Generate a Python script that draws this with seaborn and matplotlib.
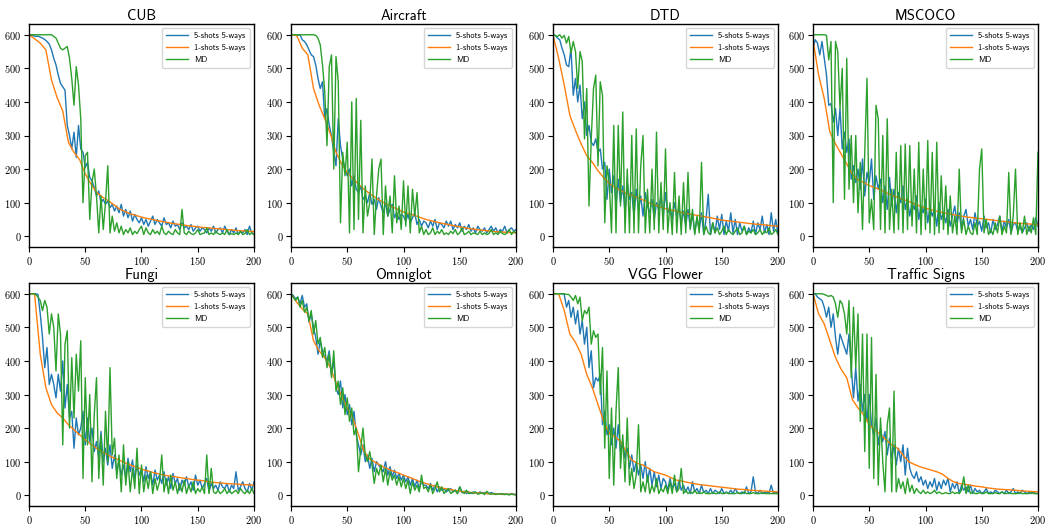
import numpy as np
import pandas as pd
import matplotlib
matplotlib.use("Agg")
import matplotlib.pyplot as plt
import seaborn as sns

# ---------------- data ----------------
x_noisy = list(range(0, 201, 2))   # grid for the noisy series
x_smooth = list(range(0, 201, 5))  # grid for the smooth 1-shot series

titles = ["CUB", "Aircraft", "DTD", "MSCOCO", "Fungi", "Omniglot", "VGG Flower", "Traffic Signs"]
series_names = ["5-shots 5-ways", "1-shots 5-ways", "MD"]

cub_5shot = [600,598,597,595,596,593,590,586,580,572,
             555,530,510,480,455,445,435,330,300,260,
             310,235,330,260,250,205,220,175,165,145,
             120,135,100,110,95,105,85,95,75,90,
             70,95,60,80,55,75,45,65,50,40,
             55,35,50,30,45,60,35,50,40,30,
             55,35,40,25,45,30,35,20,40,25,
             30,20,35,15,25,30,15,25,20,10,
             25,15,30,10,20,25,10,30,15,5,
             20,10,25,5,15,10,20,5,30,10,5]
cub_1shot = [600,588,575,555,465,413,373,280,250,228,186,156,131,117,107,95,82,74,67,62,57,
             53,50,46,43,40,37,35,32,30,28,26,25,23,22,20,19,17,16,15,14]
cub_md = [600,600,600,600,600,600,600,600,600,600,
          600,595,590,575,560,555,560,565,530,470,
          390,505,450,350,100,240,250,50,160,200,
          120,10,120,20,100,210,10,60,15,40,
          10,30,5,20,10,25,5,15,8,20,
          30,5,25,10,5,20,8,15,5,30,
          10,5,15,8,5,20,10,5,80,10,
          5,15,8,5,10,20,5,8,10,25,
          5,10,5,15,8,5,10,5,20,5,
          8,5,10,5,15,5,8,20,5,10,5]

aircraft_5shot = [600,600,600,598,600,585,580,570,555,540,
                  535,510,470,440,460,350,380,330,300,250,
                  210,350,270,230,200,180,200,150,180,140,
                  130,150,110,120,100,130,95,110,80,115,
                  90,70,100,60,80,95,55,70,50,65,
                  60,45,65,40,55,70,35,50,30,45,
                  40,25,45,30,50,20,40,35,25,45,
                  30,45,20,35,25,40,15,30,20,35,
                  15,25,10,30,20,15,25,10,20,30,
                  15,25,10,20,15,30,10,20,25,15,20]
aircraft_1shot = [600,598,560,540,440,390,350,305,250,215,190,172,155,140,127,115,105,95,88,80,72,
                  67,62,56,50,46,42,38,35,31,28,25,22,20,18,16,14,13,12,11,10]
aircraft_md = [600,600,600,600,600,600,600,600,600,600,
               600,598,590,570,510,430,270,505,540,200,
               535,460,40,250,180,280,10,400,20,410,
               50,345,10,150,60,100,230,5,120,200,
               230,5,150,60,120,10,180,40,90,20,
               165,30,150,10,140,60,130,10,30,5,
               20,5,10,25,5,15,8,20,5,10,
               5,15,8,20,5,10,25,5,8,15,
               5,10,8,5,15,5,10,5,8,20,
               5,10,5,15,8,5,10,20,5,15,10]

dtd_5shot = [600,598,590,585,560,540,510,505,560,420,
             470,400,450,350,400,300,330,280,270,290,
             250,260,200,220,110,200,130,180,90,170,
             100,150,70,160,110,130,60,140,80,120,
             60,130,90,70,110,50,100,80,120,60,
             130,70,90,50,100,60,85,40,75,30,
             80,25,65,10,55,20,70,5,50,125,
             5,40,10,60,20,65,5,45,15,70,
             10,50,5,40,15,30,5,25,10,45,
             5,40,20,60,10,35,5,70,15,50,5]
dtd_1shot = [600,530,450,360,315,275,240,220,195,175,157,146,136,128,122,115,108,100,94,88,82,
             78,74,70,67,64,61,58,55,52,48,46,44,42,40,38,36,35,33,31,30]
dtd_md = [600,598,595,600,590,598,575,595,545,580,
          550,440,550,520,290,440,90,290,440,480,
          210,460,420,40,210,160,10,330,10,330,
          90,370,10,200,10,300,10,320,10,210,
          300,10,140,10,200,20,310,10,160,20,
          260,10,100,5,190,10,120,5,160,10,
          190,20,80,5,60,10,220,5,30,10,
          5,40,10,25,5,15,30,5,20,10,
          5,15,25,5,10,30,5,15,10,20,
          5,10,20,5,15,10,25,5,10,20,5]

mscoco_5shot = [560,585,575,540,580,530,480,390,395,340,
                380,300,380,260,310,250,290,170,210,160,
                200,140,230,120,190,160,230,110,180,140,
                170,100,150,80,175,90,140,70,130,100,
                150,80,110,60,100,80,120,50,90,70,
                110,40,90,60,80,30,100,50,70,40,
                80,30,60,90,40,70,20,60,80,30,
                50,20,70,30,45,15,60,25,40,10,
                50,20,35,60,15,45,25,50,10,35,
                40,15,30,10,25,40,15,35,20,55,30]
mscoco_1shot = [585,480,410,310,275,245,215,185,168,160,151,145,138,130,122,116,110,104,97,90,84,
                79,75,71,67,64,61,58,56,54,52,50,48,46,44,42,40,38,37,36,35]
mscoco_md = [600,600,600,600,600,600,598,525,580,100,
             580,550,380,500,110,530,140,300,100,300,
             70,220,20,250,470,40,110,20,390,350,
             20,300,10,350,20,140,10,250,20,270,
             10,275,20,270,30,200,10,280,5,200,
             20,285,10,250,5,280,10,180,20,150,
             5,120,10,60,5,200,10,50,5,30,
             10,5,40,5,200,260,10,50,5,20,
             5,40,10,60,5,30,10,190,5,60,
             200,5,40,10,60,5,30,10,55,5,250]

fungi_5shot = [600,600,600,600,598,540,470,380,440,330,
               360,330,290,360,310,400,260,330,230,250,
               140,230,180,200,250,150,230,160,200,130,
               160,110,190,100,140,90,150,80,120,70,
               100,60,90,50,110,70,105,50,90,60,
               80,40,85,50,70,30,75,45,60,35,
               70,30,55,20,65,35,50,15,45,30,
               55,25,40,15,60,30,45,20,35,50,
               10,35,20,30,15,40,25,20,35,10,
               30,20,70,15,25,40,20,10,35,15,40]
fungi_1shot = [600,598,420,320,270,245,230,210,195,180,165,152,140,130,120,112,105,97,90,84,78,
               73,68,64,60,57,55,52,50,47,45,43,40,38,37,35,34,33,32,31,30]
fungi_md = [600,600,600,598,590,580,550,580,560,480,
            540,500,370,540,480,150,450,490,200,410,
            230,420,310,460,50,350,150,300,40,240,
            350,50,180,30,250,100,380,120,170,50,
            120,10,150,30,100,10,80,20,140,5,
            90,10,60,20,70,5,50,15,40,120,
            10,50,5,60,15,40,5,35,10,45,
            5,30,10,40,5,20,10,25,5,120,
            5,80,10,5,15,5,10,20,5,15,
            5,10,15,5,20,10,5,15,5,20,5]

omniglot_5shot = [600,595,585,590,570,595,560,570,515,540,
                  500,470,420,460,430,410,400,430,360,400,
                  320,300,340,260,300,240,270,210,250,180,
                  150,120,150,100,120,80,110,70,100,90,
                  80,70,100,60,85,55,75,50,65,45,
                  60,40,55,30,50,25,45,20,40,30,
                  30,20,35,15,30,10,25,15,20,10,
                  15,20,10,15,5,25,8,12,5,10,
                  5,10,8,5,10,5,8,5,5,8,
                  5,5,3,5,2,4,3,2,5,3,2]
omniglot_1shot = [600,575,555,540,460,430,410,380,335,295,260,230,180,130,108,98,88,80,73,67,60,
                  54,47,40,35,30,25,21,18,15,12,10,8,7,6,5,4,4,3,3,2]
omniglot_md = [600,590,580,590,560,580,545,560,520,550,
               480,520,450,470,410,440,380,420,350,430,
               310,340,270,320,240,290,220,260,180,200,
               70,140,200,120,100,130,90,35,80,60,
               90,40,80,30,70,45,60,30,55,25,
               50,20,45,5,40,15,30,10,60,20,
               25,10,30,5,20,40,10,25,5,15,
               20,5,10,15,5,25,10,5,15,5,
               8,5,10,3,5,8,2,12,5,3,
               5,2,4,3,5,2,3,1,4,2,1]

vgg_5shot = [600,600,600,600,600,598,560,580,530,560,
             510,550,480,520,450,500,380,430,320,350,
             340,360,210,250,180,210,150,200,140,210,
             130,160,110,140,80,120,70,100,60,90,
             50,100,40,80,30,70,25,60,20,50,
             40,15,50,20,35,10,45,15,30,10,
             25,5,40,10,20,5,30,8,15,5,
             20,5,15,10,5,20,5,10,5,15,
             5,20,8,5,10,5,25,5,10,55,
             10,5,15,5,8,10,5,30,5,10,5]
vgg_1shot = [600,600,550,480,455,420,360,320,270,220,185,175,160,130,105,95,90,80,70,65,60,
             52,45,42,38,35,32,30,28,26,24,22,20,18,17,15,14,13,12,11,10]
vgg_md = [600,600,600,600,600,600,598,598,590,580,
          595,570,590,520,550,540,560,450,490,470,
          480,300,440,140,370,50,260,30,250,380,
          80,180,40,230,30,80,20,60,210,10,
          40,10,60,5,30,10,50,5,20,10,
          30,5,40,5,60,10,20,80,5,15,
          5,10,5,15,5,8,5,10,5,5,
          5,8,5,5,10,5,5,8,5,5,
          5,5,8,5,5,10,5,5,5,8,
          5,5,5,8,5,5,5,5,5,5,5]

traffic_5shot = [600,600,590,585,580,560,530,560,500,540,
                 470,420,480,460,440,420,480,380,290,380,
                 280,330,250,300,220,300,210,180,230,150,
                 200,160,190,120,170,110,150,90,140,100,
                 150,60,140,80,60,50,70,40,55,30,
                 45,20,40,25,50,15,40,20,45,30,
                 50,10,35,20,40,5,30,15,25,10,
                 30,5,20,10,15,5,10,20,5,10,
                 5,15,10,5,10,5,15,5,10,20,
                 5,10,5,15,10,5,8,5,10,5,5]
traffic_1shot = [600,540,510,460,410,375,350,285,260,240,210,195,180,165,150,140,120,100,92,85,80,
                 75,70,63,50,40,35,32,30,27,25,22,20,18,17,16,15,13,12,11,10]
traffic_md = [600,600,600,600,600,598,595,592,595,590,
              570,530,580,570,540,480,580,350,560,380,
              540,220,480,130,480,80,470,50,360,30,
              230,100,10,210,260,10,310,10,50,20,
              40,5,50,10,30,5,20,10,5,15,
              5,10,5,8,15,5,10,5,5,8,
              5,5,10,5,8,5,15,55,5,30,
              5,10,5,5,8,5,5,10,5,5,
              5,8,5,5,10,5,5,8,5,5,
              5,5,8,5,5,5,5,8,5,5,5]

panels = [
    (cub_5shot, cub_1shot, cub_md),
    (aircraft_5shot, aircraft_1shot, aircraft_md),
    (dtd_5shot, dtd_1shot, dtd_md),
    (mscoco_5shot, mscoco_1shot, mscoco_md),
    (fungi_5shot, fungi_1shot, fungi_md),
    (omniglot_5shot, omniglot_1shot, omniglot_md),
    (vgg_5shot, vgg_1shot, vgg_md),
    (traffic_5shot, traffic_1shot, traffic_md),
]

colors = ["#1f77b4", "#ff7f0e", "#2ca02c"]
palette = dict(zip(series_names, colors))

# ---------------- figure ----------------
plt.rcParams["axes.formatter.use_mathtext"] = True
fig = plt.figure(figsize=(10.47, 5.25), dpi=100)

W, H = 1047.0, 525.0
lefts = [29, 291, 553, 813]
tops = [24, 283]
aw, ah = 225, 223

for i, (title, (s5, s1, smd)) in enumerate(zip(titles, panels)):
    r, c = divmod(i, 4)
    ax = fig.add_axes([lefts[c] / W, 1 - (tops[r] + ah) / H, aw / W, ah / H])
    df = pd.concat([
        pd.DataFrame({"x": x_noisy, "y": s5, "series": series_names[0]}),
        pd.DataFrame({"x": x_smooth, "y": s1, "series": series_names[1]}),
        pd.DataFrame({"x": x_noisy, "y": smd, "series": series_names[2]}),
    ], ignore_index=True)
    sns.lineplot(data=df, x="x", y="y", hue="series", hue_order=series_names,
                 palette=palette, linewidth=1.0, ax=ax, estimator=None, sort=False)
    ax.set_xlim(0, 200)
    ax.set_ylim(-32, 632)
    ax.set_xticks([0, 50, 100, 150, 200])
    ax.set_yticks([0, 100, 200, 300, 400, 500, 600])
    ax.set_xlabel("")
    ax.set_ylabel("")
    ax.set_title(title, fontfamily="cmss10", fontsize=10.5, pad=3)
    for lab in ax.get_xticklabels() + ax.get_yticklabels():
        lab.set_fontfamily("cmr10")
        lab.set_fontsize(7.5)
    for sp in ax.spines.values():
        sp.set_color("black")
        sp.set_linewidth(1.0)
    ax.tick_params(length=3.5, width=0.8, pad=2)
    leg = ax.legend(loc="upper right", prop={"family": "cmss10", "size": 6},
                    handlelength=2.6, borderpad=0.5, labelspacing=0.45, handletextpad=0.8)
    leg.get_frame().set_edgecolor("0.8")

fig.savefig("out.png", dpi=100)
